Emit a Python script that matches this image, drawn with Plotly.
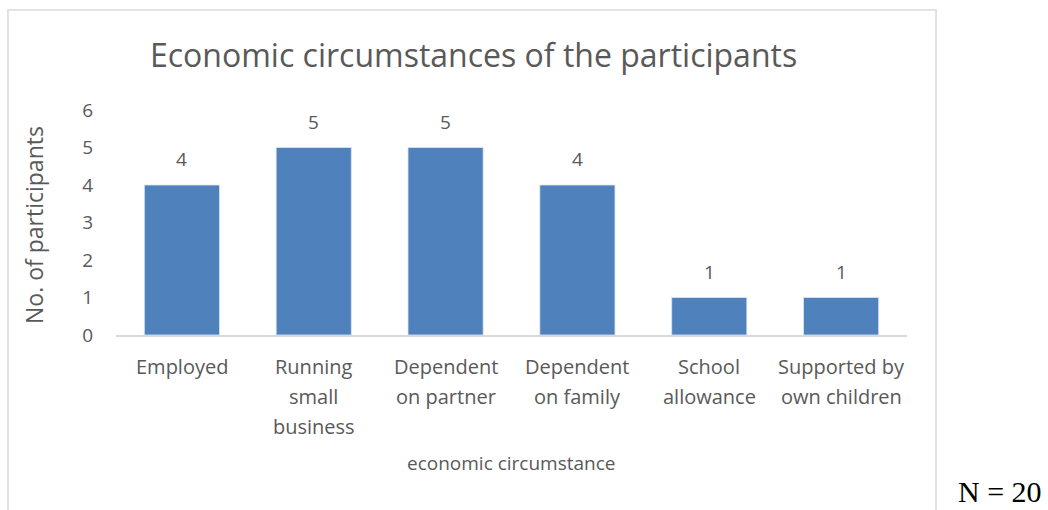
import plotly.graph_objects as go

# Survey results: economic circumstances of the participants
categories = [
    "Employed",
    "Running\nsmall\nbusiness",
    "Dependent\non partner",
    "Dependent\non family",
    "School\nallowance",
    "Supported by\nown children",
]
participants = [4, 5, 5, 4, 1, 1]
y_ticks = [0, 1, 2, 3, 4, 5, 6]

title_text = "Economic circumstances of the participants"
x_title = "economic circumstance"
y_title = "No. of participants"
note_text = "N = 20"

W, H = 1048, 510
M_L, M_R, M_T, M_B = 116, 141, 110, 175
PW, PH = W - M_L - M_R, H - M_T - M_B

TEXT = "#595959"
BAR = "#4F81BD"
FONT = "Open Sans"


def fx(px):
    return (px - M_L) / PW


def fy(py):
    return (H - M_B - py) / PH


keys = [c.replace("\n", " ") for c in categories]

fig = go.Figure(
    go.Bar(
        x=keys,
        y=participants,
        marker=dict(color=BAR, line=dict(color="#DCE6F2", width=0.8)),
        width=0.57,
        hoverinfo="skip",
    )
)

annotations = []

# value labels above the bars
for k, v in zip(keys, participants):
    annotations.append(dict(
        x=k, y=v, xref="x", yref="y", text=str(v), showarrow=False,
        yanchor="middle", yshift=26,
        font=dict(family=FONT, size=19, color=TEXT),
    ))

# category labels, one line each
for k, c in zip(keys, categories):
    for i, line in enumerate(c.split("\n")):
        annotations.append(dict(
            x=k, y=fy(366 + 30 * i), xref="x", yref="paper", text=line,
            showarrow=False, yanchor="middle",
            font=dict(family=FONT, size=20, color=TEXT),
        ))

annotations += [
    dict(x=fx(473), y=fy(55), xref="paper", yref="paper", text=title_text,
         showarrow=False, xanchor="center", yanchor="middle",
         font=dict(family=FONT, size=32, color=TEXT)),
    dict(x=fx(511), y=fy(463), xref="paper", yref="paper", text=x_title,
         showarrow=False, xanchor="center", yanchor="middle",
         font=dict(family=FONT, size=19, color=TEXT)),
    dict(x=fx(34), y=fy(225), xref="paper", yref="paper", text=y_title,
         showarrow=False, textangle=-90, xanchor="center", yanchor="middle",
         font=dict(family=FONT, size=23, color=TEXT)),
    dict(x=fx(956), y=fy(510), xref="paper", yref="paper", text=note_text,
         showarrow=False, xanchor="left", yanchor="bottom",
         font=dict(family="Liberation Serif", size=30, color="#000000")),
]

fig.update_layout(
    width=W, height=H,
    margin=dict(l=M_L, r=M_R, t=M_T, b=M_B, pad=0),
    paper_bgcolor="white", plot_bgcolor="white",
    showlegend=False,
    annotations=annotations,
    shapes=[
        # chart frame
        dict(type="rect", xref="paper", yref="paper",
             x0=fx(8), x1=fx(936), y0=fy(530), y1=fy(10),
             line=dict(color="#D9D9D9", width=1.5), layer="below"),
    ],
    xaxis=dict(
        showticklabels=False, showgrid=False, zeroline=False,
        showline=True, linecolor="#D9D9D9", linewidth=1.5, ticks="",
        fixedrange=True,
    ),
    yaxis=dict(
        range=[0, 6], tickvals=y_ticks, showgrid=False, zeroline=False,
        showline=False, ticks="", ticklabelstandoff=22,
        tickfont=dict(family=FONT, size=19, color=TEXT),
        fixedrange=True,
    ),
)

fig.write_html("out.html")
